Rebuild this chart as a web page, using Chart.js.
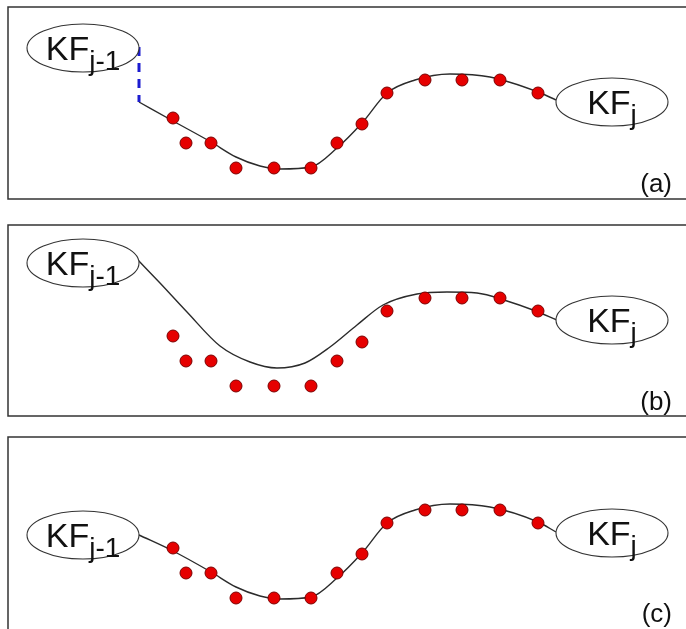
<!DOCTYPE html>
<html>
<head>
<meta charset="utf-8">
<title>Keyframe trajectory</title>
<script src="https://cdn.jsdelivr.net/npm/chart.js@4.4.1/dist/chart.umd.min.js"></script>
<style>
    body { margin: 0; background: #fff; width: 686px; height: 629px; overflow: hidden; position: relative; }
    .panel { position: absolute; left: 0; width: 686px; height: 200px; }
</style>
</head>
<body>
<div class="panel" style="top:3px"><canvas id="chartA" width="686" height="200"></canvas></div>
<div class="panel" style="top:221px"><canvas id="chartB" width="686" height="200"></canvas></div>
<div class="panel" style="top:433px"><canvas id="chartC" width="686" height="200"></canvas></div>
<script>
        // Observed frames (red dots), same in every panel
        const dotX = [173, 186, 211, 236, 274, 311, 337, 362, 387, 425, 462, 500, 538];
        const dotY = [111, 136, 136, 161, 161, 161, 136, 117, 86, 73, 73, 73, 86];

        // Trajectory between the keyframes, one per panel
        const curveAX = [139, 173, 211, 236, 260, 280, 311, 337, 362, 387, 415, 450, 490, 538, 556];
        const curveAY = [95, 114, 135, 150, 159, 162, 160, 141, 116, 86, 73, 67, 70, 85, 93];
        const curveBX = [138, 160, 187, 220, 250, 277, 305, 330, 357, 383, 417, 447, 477, 507, 533, 557];
        const curveBY = [35, 58, 87, 121, 137, 143, 138, 122, 100, 80, 69, 67, 68, 76, 85, 95];
        const curveCX = [139, 173, 211, 236, 260, 280, 311, 337, 362, 387, 415, 450, 490, 538, 556];
        const curveCY = [98, 114, 135, 150, 159, 162, 160, 141, 116, 86, 73, 67, 70, 85, 95];

        // Gap between KFj-1 and the start of the trajectory in (a)
        const gapX = [139, 139];
        const gapY = [40, 95];

        // Keyframes
        const keyframeX = [83, 612];
        const keyframeYA = [41, 95];
        const keyframeYB = [38, 95];
        const keyframeYC = [98, 96];
        const keyframeSub = ['j-1', 'j'];

        const panelLabels = ['(a)', '(b)', '(c)'];
        const boxHeights = [192, 191, 200];

        const FONT = '"Liberation Sans", Arial, sans-serif';

        function toPoints(xs, ys) {
            return xs.map((x, i) => ({ x: x, y: ys[i] }));
        }

        const diagramPlugin = {
            id: 'diagram',
            beforeDatasetsDraw(chart, args, opts) {
                const ctx = chart.ctx;
                const xs = chart.scales.x, ys = chart.scales.y;
                const left = xs.getPixelForValue(8);
                const top = ys.getPixelForValue(0);
                const bottom = ys.getPixelForValue(opts.boxHeight);
                ctx.save();
                ctx.strokeStyle = '#333';
                ctx.lineWidth = 1.5;
                ctx.strokeRect(left, top, 720, bottom - top);
                ctx.restore();
            },
            afterDatasetsDraw(chart, args, opts) {
                const ctx = chart.ctx;
                const xs = chart.scales.x, ys = chart.scales.y;
                ctx.save();
                keyframeX.forEach((kx, i) => {
                    const cx = xs.getPixelForValue(kx);
                    const cy = ys.getPixelForValue(opts.keyframeY[i]);
                    ctx.beginPath();
                    ctx.ellipse(cx, cy, 56, 24, 0, 0, Math.PI * 2);
                    ctx.fillStyle = '#fff';
                    ctx.fill();
                    ctx.strokeStyle = '#333';
                    ctx.lineWidth = 1.1;
                    ctx.stroke();

                    ctx.fillStyle = '#111';
                    ctx.textBaseline = 'alphabetic';
                    ctx.textAlign = 'left';
                    ctx.font = '34px ' + FONT;
                    const w1 = ctx.measureText('KF').width;
                    ctx.font = '28px ' + FONT;
                    const w2 = ctx.measureText(keyframeSub[i]).width;
                    const x0 = cx - (w1 + w2) / 2;
                    ctx.font = '34px ' + FONT;
                    ctx.fillText('KF', x0, cy + 12);
                    ctx.font = '28px ' + FONT;
                    ctx.fillText(keyframeSub[i], x0 + w1, cy + 22);
                });

                ctx.font = '26px ' + FONT;
                ctx.textAlign = 'right';
                ctx.fillStyle = '#111';
                ctx.fillText(opts.label, xs.getPixelForValue(672), ys.getPixelForValue(185));
                ctx.restore();
            }
        };

        function makePanel(canvasId, curve, keyframeY, idx, gap) {
            const datasets = [{
                type: 'scatter',
                data: toPoints(dotX, dotY),
                pointRadius: 6,
                pointHoverRadius: 6,
                backgroundColor: '#e60000',
                borderColor: '#7a0000',
                borderWidth: 1
            }];
            if (gap) {
                datasets.push({
                    type: 'line',
                    data: gap,
                    borderColor: '#1c1cd0',
                    borderWidth: 3,
                    borderDash: [9, 7],
                    pointRadius: 0,
                    tension: 0
                });
            }
            datasets.push({
                type: 'line',
                data: curve,
                borderColor: '#2b2b2b',
                borderWidth: 1.4,
                pointRadius: 0,
                cubicInterpolationMode: 'monotone'
            });

            return new Chart(document.getElementById(canvasId), {
                type: 'scatter',
                data: { datasets: datasets },
                options: {
                    responsive: false,
                    animation: false,
                    layout: { padding: 0, autoPadding: false },
                    scales: {
                        x: { type: 'linear', min: 0, max: 686, display: false },
                        y: { type: 'linear', min: -4, max: 196, reverse: true, display: false }
                    },
                    plugins: {
                        legend: { display: false },
                        tooltip: { enabled: false },
                        diagram: { keyframeY: keyframeY, label: panelLabels[idx], boxHeight: boxHeights[idx] }
                    }
                },
                plugins: [diagramPlugin]
            });
        }

        makePanel('chartA', toPoints(curveAX, curveAY), keyframeYA, 0, toPoints(gapX, gapY));
        makePanel('chartB', toPoints(curveBX, curveBY), keyframeYB, 1);
        makePanel('chartC', toPoints(curveCX, curveCY), keyframeYC, 2);
</script>
</body>
</html>
